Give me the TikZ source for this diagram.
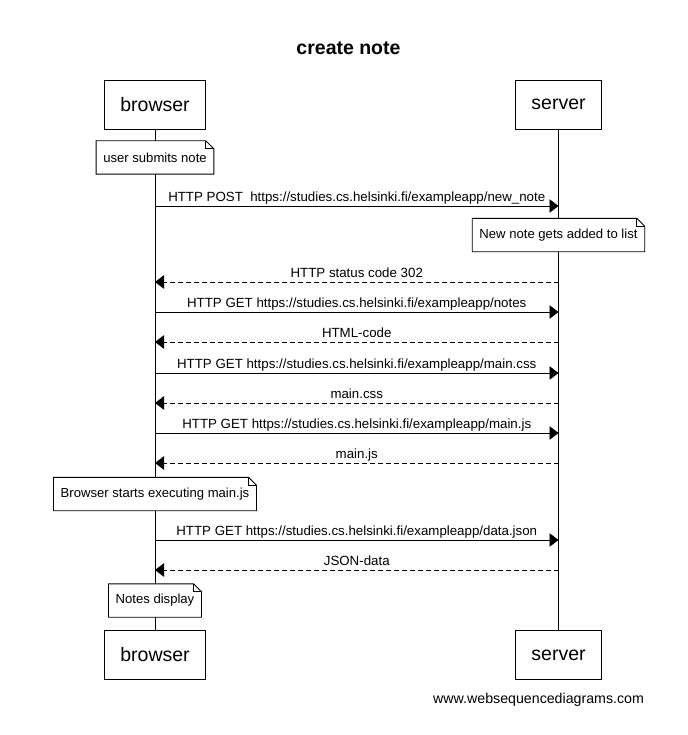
\documentclass[tikz,border=0pt]{standalone}
\usepackage{fontspec}
\setmainfont{Liberation Sans}
\usetikzlibrary{arrows.meta}
\tikzset{
  actor/.style={draw, line width=0.9pt, fill=white, minimum height=49pt, inner xsep=15.5pt, font=\fontsize{19.5}{22}\selectfont},
  life/.style={line width=0.9pt},
  msg/.style={line width=0.9pt, -{Triangle[length=9pt,width=13.5pt]}},
  ret/.style={msg, dash pattern=on 5pt off 3pt},
  lbl/.style={anchor=base, yshift=4.5pt, inner sep=0pt, font=\fontsize{13.3}{15}\selectfont},
  notebox/.style={fill=white, draw=none, minimum height=33pt, inner xsep=7pt, font=\fontsize{13.1}{15}\selectfont},
  noteline/.style={line width=0.9pt}
}
\newcommand\wsdnote[1]{%
  \draw[noteline] (#1.south west) -- (#1.north west) -- ([xshift=-8pt]#1.north east) -- ([yshift=-8pt]#1.north east) -- (#1.south east) -- cycle;
  \draw[noteline] ([xshift=-8pt]#1.north east) |- ([yshift=-8pt]#1.north east);}
\begin{document}
\begin{tikzpicture}[x=1pt,y=-1pt]
\useasboundingbox[fill=white] (0,0) rectangle (687,735);
\node[font=\bfseries\fontsize{19.5}{22}\selectfont] (title) at (348.5,48) {create note};
% participants
\node[actor] (bt) at (155,104.5) {browser};
\node[actor] (st) at (558.5,104.5) {server};
\node[actor] (bb) at (155,655) {browser};
\node[actor] (sb) at (558.5,655) {server};
% lifelines
\draw[life] (bt) -- (bb);
\draw[life] (st) -- (sb);
% message anchor points
\foreach \i/\y in {1/206,2/282,3/312,4/342,5/373,6/403,7/433,8/463,9/540,10/570}{
  \coordinate (b\i) at (bt.south |- 0,\y);
  \coordinate (s\i) at (st.south |- 0,\y);
}
% notes
\node[notebox] (n1) at (bt.south |- 0,157.5) {user submits note};
\wsdnote{n1}
\node[notebox] (n2) at (st.south |- 0,235) {New note gets added to list};
\wsdnote{n2}
\node[notebox] (n3) at (bt.south |- 0,494) {Browser starts executing main.js};
\wsdnote{n3}
\node[notebox] (n4) at (bt.south |- 0,600.5) {Notes display};
\wsdnote{n4}
% messages
\draw[msg] (b1) -- node[lbl] {HTTP POST\ \ https://studies.cs.helsinki.fi/exampleapp/new\_note} (s1);
\draw[ret] (s2) -- node[lbl] {HTTP status code 302} (b2);
\draw[msg] (b3) -- node[lbl] {HTTP GET https://studies.cs.helsinki.fi/exampleapp/notes} (s3);
\draw[ret] (s4) -- node[lbl] {HTML-code} (b4);
\draw[msg] (b5) -- node[lbl] {HTTP GET https://studies.cs.helsinki.fi/exampleapp/main.css} (s5);
\draw[ret] (s6) -- node[lbl] {main.css} (b6);
\draw[msg] (b7) -- node[lbl] {HTTP GET https://studies.cs.helsinki.fi/exampleapp/main.js} (s7);
\draw[ret] (s8) -- node[lbl] {main.js} (b8);
\draw[msg] (b9) -- node[lbl] {HTTP GET https://studies.cs.helsinki.fi/exampleapp/data.json} (s9);
\draw[ret] (s10) -- node[lbl] {JSON-data} (b10);
% footer
\node[anchor=base west, inner sep=0pt, font=\fontsize{14.2}{16}\selectfont] (footer) at (433,703) {www.websequencediagrams.com};
\end{tikzpicture}
\end{document}
